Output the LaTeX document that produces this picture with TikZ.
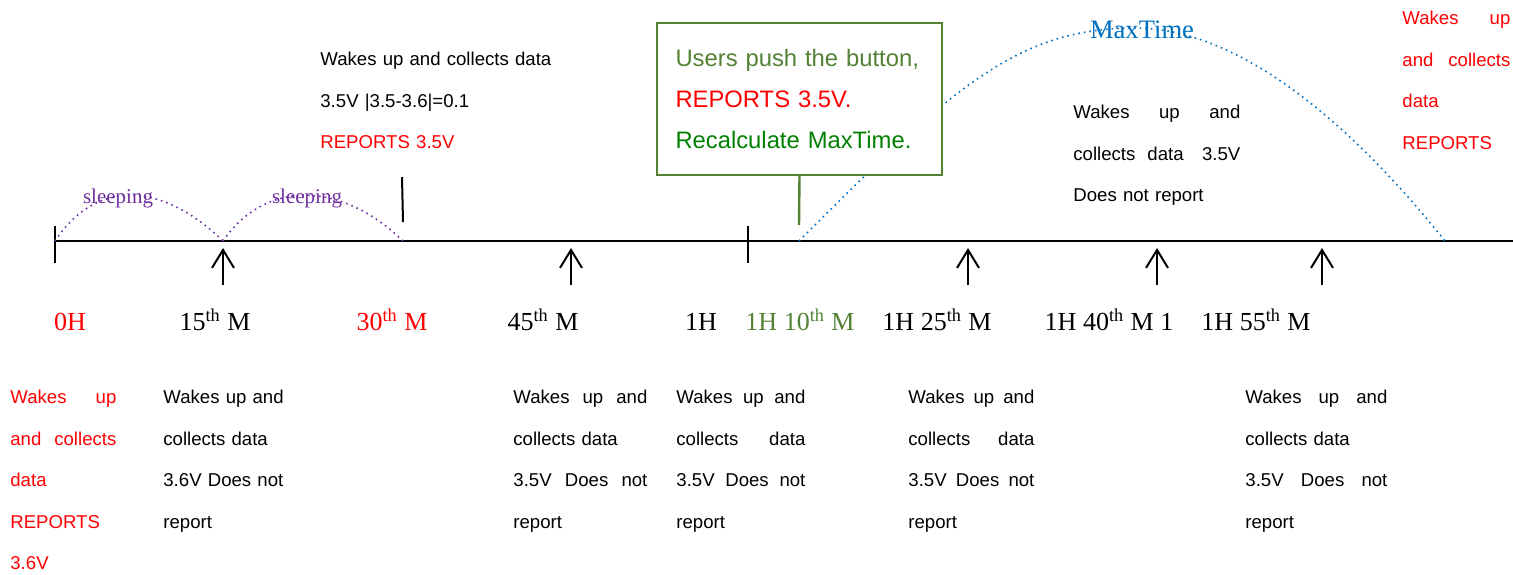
\documentclass[tikz,border=0pt]{standalone}
\usepackage{fontspec}
\setmainfont{Liberation Serif}
\setsansfont{Liberation Sans}
\usetikzlibrary{arrows.meta}
\definecolor{sleeppurple}{HTML}{7030A0}
\definecolor{maxblue}{HTML}{0070C0}
\definecolor{btngreen}{HTML}{548235}
\definecolor{calcgreen}{RGB}{0,128,0}
\definecolor{repred}{RGB}{255,0,0}

\begin{document}
\begin{tikzpicture}[x=0.5pt, y=-0.5pt,
    axis/.style={line width=0.75pt},
    tick/.style={line width=0.6pt},
    uparrow/.style={-{Straight Barb[length=9pt,width=11pt]}, line width=1pt},
    sleeparc/.style={dotted, line width=0.8pt, sleeppurple},
    maxarc/.style={dotted, line width=0.8pt, maxblue},
    lab/.style={font=\fontsize{13}{15}\selectfont, anchor=base, inner sep=0pt},
    note/.style={font=\sffamily\fontsize{9.3}{20.75}\selectfont, anchor=north west, inner sep=0pt, align=left},
    button/.style={draw=btngreen, line width=0.75pt, fill=white, minimum width=142.5pt, minimum height=76pt,
        inner xsep=9.25pt, text width=124pt, align=left, font=\sffamily\fontsize{11.9}{20.5}\selectfont}
  ]
  \useasboundingbox (0,0) rectangle (1513,574);

  % points on the time axis
  \coordinate (t0) at (55,241);
  \coordinate (t15) at (223,241);
  \coordinate (t30) at (403,241);
  \coordinate (t60) at (748,241);
  \coordinate (t70) at (799,241);
  \coordinate (tmax) at (1445,241);
  \coordinate (tend) at (1513,241);

  % axis and ticks
  \draw[axis] (t0) -- (tend);
  \draw[tick] ([yshift=7.5pt]t0) -- ([yshift=-11pt]t0);
  \draw[tick] ([yshift=7.5pt]t60) -- ([yshift=-11pt]t60);

  % wake up arrows
  \foreach \n/\x in {15/223, 45/571, 85/968, 100/1157, 115/1322} {
    \coordinate (a\n) at (\x,285);
    \coordinate (h\n) at (\x,248);
    \draw[uparrow] (a\n) -- (h\n);
  }

  % sleeping arcs
  \draw[sleeparc] (t0) .. controls (95,180) and (160,180) .. (t15);
  \draw[sleeparc] (t15) .. controls (265,180) and (340,180) .. (t30);
  \node[sleeppurple, font=\fontsize{10.5}{12}\selectfont, anchor=base, inner sep=0pt] (sl1) at (118,203) {sleeping};
  \node[sleeppurple, font=\fontsize{10.5}{12}\selectfont, anchor=base, inner sep=0pt] (sl2) at (307,203) {sleeping};

  % report mark at 30th M
  \coordinate (s30) at (402,177);
  \draw[line width=1pt] (s30) -- ([yshift=9.5pt]t30);

  % MaxTime arc
  \coordinate (mtop) at (1135,28);
  \draw[maxarc] (t70) .. controls (949,91) and (1015,28) .. (mtop)
                      .. controls (1235,28) and (1345,116) .. (tmax);
  \node[maxblue, font=\fontsize{13.3}{15}\selectfont, anchor=base, inner sep=0pt] (mt) at (1142,38) {MaxTime};

  % button box
  \node[button] (btn) at (799.5,99) {\textcolor{btngreen}{Users push the button,}\\
      \textcolor{repred}{REPORTS 3.5V.}\\
      \textcolor{calcgreen}{Recalculate MaxTime.}};
  \draw[btngreen, line width=1.2pt] (btn.south) -- ([yshift=8pt]t70);

  % time labels
  \node[lab, repred] (l0) at (70,330) {0H};
  \node[lab] (l15) at (215,330) {15\textsuperscript{th} M};
  \node[lab, repred] (l30) at (392,330) {30\textsuperscript{th} M};
  \node[lab] (l45) at (543,330) {45\textsuperscript{th} M};
  \node[lab] (l60) at (701,330) {1H};
  \node[lab, btngreen] (l70) at (800,330) {1H 10\textsuperscript{th} M};
  \node[lab] (l85) at (937,330) {1H 25\textsuperscript{th} M};
  \node[lab] (l100) at (1109,330) {1H 40\textsuperscript{th} M 1};
  \node[lab] (l115) at (1256,330) {1H 55\textsuperscript{th} M};

  % notes above the axis
  \node[note, text width=130pt] (n30) at (320,52) {Wakes up and collects data\\
      3.5V |3.5-3.6|=0.1\\ \textcolor{repred}{REPORTS 3.5V}};
  \node[note, text width=83.5pt] (n100) at (1073,105) {Wakes\hfill up\hfill and\\
      collects\hspace{6pt}data\hfill 3.5V\\ Does not report};
  \node[note, repred, text width=54pt] (n120) at (1402,11) {Wakes\hfill up\\ and\hfill collects\\ data\\ REPORTS};

  % notes below the axis
  \node[note, repred, text width=53pt] (n0) at (10,390) {Wakes\hfill up\\ and\hfill collects\\ data\\ REPORTS\\ 3.6V};
  \node[note, text width=66pt] (n15) at (163,390) {Wakes up and\\ collects data\\ 3.6V Does not\\ report};
  \node[note, text width=67pt] (n45) at (513,390) {Wakes\hfill up\hfill and\\ collects data\\ 3.5V\hfill Does\hfill not\\ report};
  \node[note, text width=64.5pt] (n60) at (676,390) {Wakes\hfill up\hfill and\\ collects\hfill data\\ 3.5V\hfill Does\hfill not\\ report};
  \node[note, text width=63pt] (n85) at (908,390) {Wakes\hfill up\hfill and\\ collects\hfill data\\ 3.5V\hfill Does\hfill not\\ report};
  \node[note, text width=71pt] (n115) at (1245,390) {Wakes\hfill up\hfill and\\ collects data\\ 3.5V\hfill Does\hfill not\\ report};
\end{tikzpicture}
\end{document}
